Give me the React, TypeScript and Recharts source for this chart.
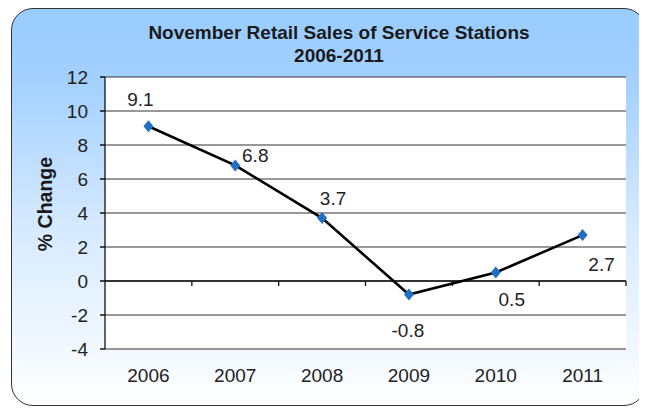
import React from 'react';
import {
  LineChart,
  Line,
  XAxis,
  YAxis,
  CartesianGrid,
  ReferenceLine,
  LabelList,
} from 'recharts';

const years = ['2006', '2007', '2008', '2009', '2010', '2011'];
const pctChange = [9.1, 6.8, 3.7, -0.8, 0.5, 2.7];
const yTicks = [-4, -2, 0, 2, 4, 6, 8, 10, 12];

const data = years.map((year, i) => ({ year, change: pctChange[i] }));

const FONT = '"Liberation Sans", Arial, sans-serif';

// where each value label sits relative to its point
const labelShift = [
  { dx: -8, dy: -27 },
  { dx: 20, dy: -10 },
  { dx: 11, dy: -20 },
  { dx: -1, dy: 36 },
  { dx: 16, dy: 27 },
  { dx: 19, dy: 29 },
];

const Diamond = (props: any) => {
  const { cx, cy } = props;
  if (cx == null || cy == null) return null;
  const r = 6;
  return (
    <polygon
      points={`${cx},${cy - r} ${cx + r - 1},${cy} ${cx},${cy + r} ${cx - r + 1},${cy}`}
      fill="#1f6fc4"
    />
  );
};

const ValueLabel = (props: any) => {
  const { x, y, value, index } = props;
  const s = labelShift[index] || { dx: 0, dy: -20 };
  return (
    <text
      x={x + s.dx}
      y={y + s.dy}
      textAnchor="middle"
      dominantBaseline="central"
      fontSize={19}
      fontFamily={FONT}
      fill="#222"
    >
      {value}
    </text>
  );
};

// zero line with the category tick marks hanging below it
const ZeroAxis = (props: any) => {
  const { x1, y1, x2 } = props;
  const step = (x2 - x1) / years.length;
  return (
    <g>
      <line x1={x1} y1={y1} x2={x2} y2={y1} stroke="#111" strokeWidth={1.3} />
      {years.map((_, i) => (
        <line
          key={i}
          x1={x1 + step * (i + 1)}
          y1={y1}
          x2={x1 + step * (i + 1)}
          y2={y1 + 5}
          stroke="#111"
          strokeWidth={1.3}
        />
      ))}
    </g>
  );
};

export default function App() {
  return (
    <div
      style={{
        position: 'relative',
        marginLeft: 3,
        width: 635,
        height: 398,
        border: '1.5px solid #333',
        borderRadius: 22,
        boxSizing: 'border-box',
        background:
          'linear-gradient(to bottom, #99ccff 0%, #a3d0ff 18%, #d6eaff 55%, #ffffff 100%)',
        overflow: 'hidden',
        fontFamily: FONT,
      }}
    >
      <div
        style={{
          position: 'absolute',
          left: 327,
          top: 12,
          transform: 'translateX(-50%)',
          whiteSpace: 'nowrap',
          textAlign: 'center',
          fontWeight: 'bold',
          fontSize: 19,
          lineHeight: '23px',
          color: '#1a1a1a',
        }}
      >
        November Retail Sales of Service Stations
        <br />
        2006-2011
      </div>
      <div
        style={{
          position: 'absolute',
          left: 33,
          top: 195,
          transform: 'translate(-50%, -50%) rotate(-90deg)',
          whiteSpace: 'nowrap',
          fontWeight: 'bold',
          fontSize: 19.5,
          color: '#1a1a1a',
        }}
      >
        % Change
      </div>
      <LineChart
        width={635}
        height={398}
        data={data}
        margin={{ top: 69, right: 20, left: 34, bottom: 27 }}
        style={{ position: 'absolute', left: -1.5, top: -1.5 }}
      >
        <CartesianGrid
          vertical={false}
          horizontal
          stroke="#333"
          strokeWidth={1.2}
          fill="#ffffff"
          fillOpacity={1}
        />
        <XAxis
          dataKey="year"
          scale="band"
          height={30}
          axisLine={false}
          tickLine={false}
          tickMargin={14}
          tick={{ fontSize: 19, fill: '#222', fontFamily: FONT }}
        />
        <YAxis
          width={60}
          domain={[-4, 12]}
          ticks={yTicks}
          interval={0}
          axisLine={{ stroke: '#111', strokeWidth: 1.3 }}
          tickLine={{ stroke: '#111', strokeWidth: 1.3 }}
          tickSize={5}
          tickMargin={12}
          tick={{ fontSize: 19, fill: '#222', fontFamily: FONT }}
        />
        <ReferenceLine y={0} shape={<ZeroAxis />} />
        <Line
          dataKey="change"
          type="linear"
          stroke="#000"
          strokeWidth={2.6}
          dot={<Diamond />}
          activeDot={false}
          isAnimationActive={false}
        >
          <LabelList dataKey="change" content={<ValueLabel />} />
        </Line>
      </LineChart>
    </div>
  );
}
